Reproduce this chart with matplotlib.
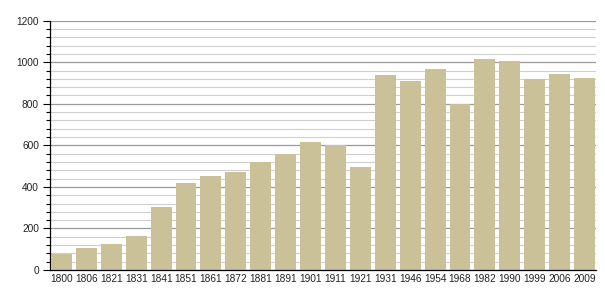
import matplotlib.pyplot as plt
import matplotlib.ticker as ticker
import numpy as np

years = ["1800", "1806", "1821", "1831", "1841", "1851", "1861", "1872",
         "1881", "1891", "1901", "1911", "1921", "1931", "1946", "1954",
         "1968", "1982", "1990", "1999", "2006", "2009"]
population = [76, 106, 125, 164, 304, 419, 453, 472,
              519, 558, 617, 604, 498, 940, 911, 969,
              798, 1017, 1007, 917, 945, 925]

plt.rcParams["font.family"] = ["Liberation Sans", "DejaVu Sans"]

fig = plt.figure(figsize=(6.05, 3.0), dpi=100)
ax = fig.add_axes([50 / 605, 0.1, 546 / 605, 0.831])

x = np.arange(len(years))
ax.bar(x, population, width=0.84, color="#cbc198", zorder=3)

ax.set_xlim(-0.46, len(years) - 1 + 0.46)
ax.set_ylim(0, 1200)
ax.set_xticks(x)
ax.set_xticklabels(years, fontsize=7.3, color="#222222")
ax.tick_params(axis="x", length=0, pad=3)

ax.yaxis.set_major_locator(ticker.MultipleLocator(200))
ax.yaxis.set_minor_locator(ticker.MultipleLocator(40))
ax.tick_params(axis="y", which="major", length=5, width=0.8, labelsize=7.3,
               labelcolor="#222222", pad=3)
ax.tick_params(axis="y", which="minor", length=3, width=0.8)

ax.grid(True, axis="y", which="major", color="#999999", linewidth=0.9, zorder=0)
ax.grid(True, axis="y", which="minor", color="#cfcfcf", linewidth=0.8, zorder=0)

ax.spines["top"].set_visible(False)
ax.spines["right"].set_visible(False)
ax.spines["left"].set_color("black")
ax.spines["bottom"].set_color("black")
ax.spines["left"].set_linewidth(0.9)
ax.spines["bottom"].set_linewidth(0.9)
ax.spines["bottom"].set_zorder(4)

fig.savefig("out.png", dpi=100)
